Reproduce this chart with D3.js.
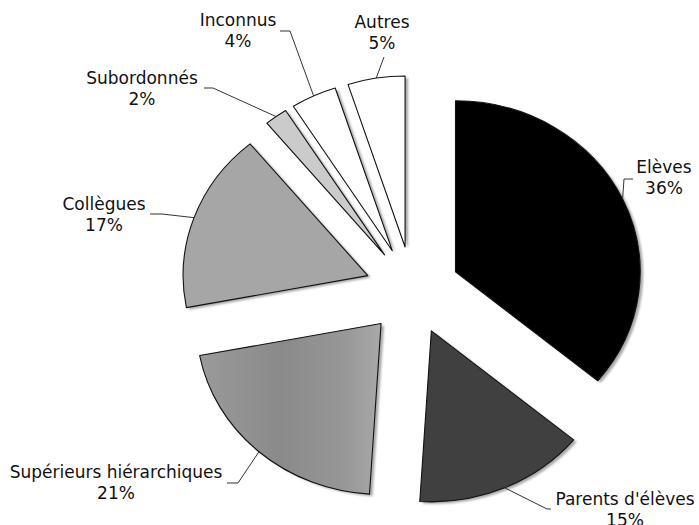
<!DOCTYPE html>
<html>
<head>
<meta charset="utf-8">
<script src="https://cdn.jsdelivr.net/npm/d3@7"></script>
<style>
  body { margin: 0; background: #fff; }
  svg text { font-family: "DejaVu Sans", Verdana, sans-serif; font-size: 17px; fill: #111; }
</style>
</head>
<body>
<div id="chart"></div>
<script>
// data
var categories = ["Elèves", "Parents d'élèves", "Supérieurs hiérarchiques", "Collègues", "Subordonnés", "Inconnus", "Autres"];
var percents = [36, 15, 21, 17, 2, 4, 5];

// styles, one per slice
var fills = ["#000000", "#404040", "url(#gradSup)", "#a6a6a6", "#cbcbcb", "#ffffff", "#ffffff"];

// hand placed labels (text centre / first baseline, leader elbow, leader end)
var labelLayout = [
  { x: 664, y: 173, elbow: [624, 179], end: [633, 179] },
  { x: 625, y: 505, elbow: [547, 509], end: [551, 509] },
  { x: 116, y: 478, elbow: [238, 483], end: [227, 483] },
  { x: 104, y: 210, elbow: [162, 214], end: [150, 214] },
  { x: 142, y: 84,  elbow: [213, 88],  end: [204, 88] },
  { x: 238, y: 26,  elbow: [290, 31],  end: [280, 31] },
  { x: 382, y: 28,  elbow: [384, 57],  end: [384, 57] }
];

var width = 699, height = 525;
// pie is slightly stretched horizontally in the original
var cx = 412.5, cy = 290.5, radius = 171, sx = 1.08, explode = 44;

var svg = d3.select("#chart").append("svg")
    .attr("width", width)
    .attr("height", height);

var defs = svg.append("defs");
var grad = defs.append("linearGradient")
    .attr("id", "gradSup")
    .attr("x1", 0).attr("x2", 1).attr("y1", 0).attr("y2", 0);
grad.append("stop").attr("offset", 0).attr("stop-color", "#9a9a9a");
grad.append("stop").attr("offset", 0.45).attr("stop-color", "#8a8a8a");
grad.append("stop").attr("offset", 0.8).attr("stop-color", "#979797");
grad.append("stop").attr("offset", 1).attr("stop-color", "#a9a9a9");

defs.append("filter").attr("id", "blur")
    .append("feGaussianBlur").attr("stdDeviation", 1);

var pie = d3.pie().sort(null).value(function(d) { return d; });
var arcs = pie(percents);

var arc = d3.arc().innerRadius(0).outerRadius(radius);

var g = svg.append("g")
    .attr("transform", "translate(" + cx + "," + cy + ") scale(" + sx + ",1)");

function offset(d) {
  var mid = (d.startAngle + d.endAngle) / 2;
  return [Math.sin(mid) * explode, -Math.cos(mid) * explode];
}

// shadows
g.selectAll("path.shadow")
  .data(arcs)
  .enter().append("path")
    .attr("class", "shadow")
    .attr("d", arc)
    .attr("fill", "#8c8c8c")
    .attr("opacity", 0.75)
    .attr("filter", "url(#blur)")
    .attr("transform", function(d) {
      var o = offset(d);
      return "translate(" + (o[0] + 2.8) + "," + (o[1] + 2) + ")";
    });

// slices
g.selectAll("path.slice")
  .data(arcs)
  .enter().append("path")
    .attr("class", "slice")
    .attr("d", arc)
    .attr("fill", function(d, i) { return fills[i]; })
    .attr("stroke", "#111")
    .attr("stroke-width", 1.1)
    .attr("vector-effect", "non-scaling-stroke")
    .attr("stroke-linejoin", "round")
    .attr("transform", function(d) {
      var o = offset(d);
      return "translate(" + o[0] + "," + o[1] + ")";
    });

// leader lines
var line = d3.line();
svg.selectAll("path.leader")
  .data(arcs)
  .enter().append("path")
    .attr("class", "leader")
    .attr("fill", "none")
    .attr("stroke", "#333")
    .attr("stroke-width", 1)
    .attr("d", function(d, i) {
      var o = offset(d);
      var mid = (d.startAngle + d.endAngle) / 2;
      var start = [cx + sx * (o[0] + Math.sin(mid) * radius), cy + o[1] - Math.cos(mid) * radius];
      var L = labelLayout[i];
      return line([start, L.elbow, L.end]);
    });

// labels
var labels = svg.selectAll("g.label")
  .data(arcs)
  .enter().append("g")
    .attr("class", "label");

labels.append("text")
    .attr("x", function(d, i) { return labelLayout[i].x; })
    .attr("y", function(d, i) { return labelLayout[i].y; })
    .attr("text-anchor", "middle")
    .text(function(d, i) { return categories[i]; });

labels.append("text")
    .attr("x", function(d, i) { return labelLayout[i].x; })
    .attr("y", function(d, i) { return labelLayout[i].y + 20.5; })
    .attr("text-anchor", "middle")
    .text(function(d, i) { return percents[i] + "%"; });
</script>
</body>
</html>
